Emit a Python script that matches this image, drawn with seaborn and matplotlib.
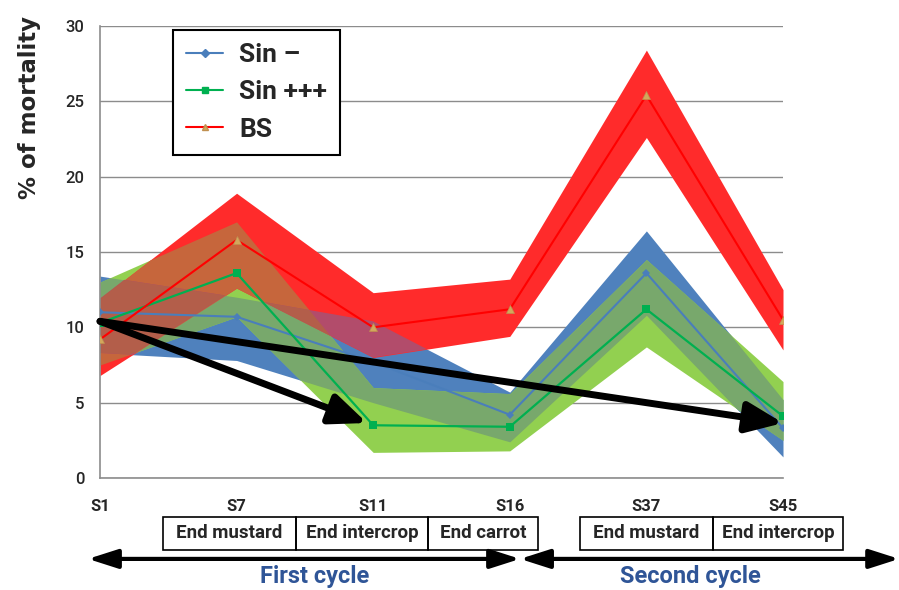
import numpy as np
import matplotlib
matplotlib.use("Agg")
import matplotlib.pyplot as plt
from matplotlib.patches import Rectangle
from matplotlib.lines import Line2D
import seaborn as sns

# ---- data -------------------------------------------------------------
stages = ["S1", "S7", "S11", "S16", "S37", "S45"]

sin_minus = [11.0, 10.7, 7.7, 4.2, 13.6, 3.3]
sin_minus_low = [8.3, 7.8, 5.0, 2.4, 10.8, 1.4]
sin_minus_high = [13.4, 12.0, 10.4, 5.7, 16.4, 5.2]

sin_plus = [10.3, 13.6, 3.5, 3.4, 11.2, 4.1]
sin_plus_low = [7.5, 10.7, 1.7, 1.8, 8.7, 2.5]
sin_plus_high = [13.0, 17.0, 6.0, 5.6, 14.5, 6.4]

bs = [9.2, 15.8, 10.0, 11.2, 25.4, 10.5]
bs_low = [6.8, 12.6, 8.0, 9.4, 22.6, 8.5]
bs_high = [11.9, 18.9, 12.3, 13.2, 28.4, 12.5]

series_names = ["Sin \u2013", "Sin +++", "BS"]
y_ticks = [0, 5, 10, 15, 20, 25, 30]

phase_labels = ["End mustard", "End intercrop", "End carrot",
                "End mustard", "End intercrop"]
cycle_labels = ["First cycle", "Second cycle"]

# trend arrows: start (stage index, %) -> end (stage index, %)
trend_start = (0.0, 10.4)
trend_ends = [(1.955, 3.65), (5.0, 3.65)]

# ---- style ------------------------------------------------------------
sns.set_theme(style="white")
plt.rcParams["font.family"] = ["Roboto", "DejaVu Sans"]

band_colors = {"blue": "#4F81BD", "green": "#92D050", "red": "#FF2B2B"}
mix_colors = {
    ("blue", "green"): "#78A86C",
    ("green", "red"): "#C6663C",
    ("blue", "red"): "#B24C6B",
    ("blue", "green", "red"): "#B35E4A",
}
line_colors = {"blue": "#4A7EBB", "green": "#00B050", "red": "#FF0000"}
grey = "#8C8C8C"

fig = plt.figure(figsize=(8.99, 5.90), dpi=100)
ax = fig.add_axes([100 / 899, 1 - 478 / 590, 683 / 899, 452 / 590])

x = np.arange(len(stages))
bands = {
    "blue": (sin_minus_low, sin_minus_high),
    "green": (sin_plus_low, sin_plus_high),
    "red": (bs_low, bs_high),
}

# single bands
for key in ["blue", "green", "red"]:
    lo, hi = bands[key]
    ax.fill_between(x, lo, hi, color=band_colors[key], lw=0, zorder=1)

# overlapping parts of the bands get their own blended tone
xs = np.linspace(0, len(stages) - 1, 1201)
dense = {k: (np.interp(xs, x, v[0]), np.interp(xs, x, v[1])) for k, v in bands.items()}
for combo, col in mix_colors.items():
    lo = np.max([dense[k][0] for k in combo], axis=0)
    hi = np.min([dense[k][1] for k in combo], axis=0)
    ax.fill_between(xs, lo, hi, where=hi > lo, color=col, lw=0,
                    zorder=2 + len(combo) * 0.1)

# mean lines
sns.lineplot(x=x, y=sin_minus, ax=ax, color=line_colors["blue"], lw=1.5,
             marker="D", markersize=4, markeredgewidth=0, zorder=5)
sns.lineplot(x=x, y=sin_plus, ax=ax, color=line_colors["green"], lw=1.6,
             marker="s", markersize=6, markeredgewidth=0, zorder=5)
sns.lineplot(x=x, y=bs, ax=ax, color=line_colors["red"], lw=1.5,
             marker="^", markersize=6, markerfacecolor="#D2A85C",
             markeredgecolor="#C09050", markeredgewidth=0.5, zorder=5)

# trend arrows
for end in trend_ends:
    ax.annotate("", xy=end, xytext=trend_start,
                arrowprops=dict(arrowstyle="-|>,head_length=1.0,head_width=0.42",
                                lw=5, color="black", mutation_scale=22,
                                shrinkA=0, shrinkB=0),
                zorder=6)

# axes
ax.set_xlim(0, len(stages) - 1)
ax.set_ylim(0, 30)
ax.set_yticks(y_ticks)
ax.set_xticks(x)
ax.set_xticklabels(stages)
ax.yaxis.grid(True, color=grey, lw=1)
ax.set_axisbelow(True)
for s in ["top", "right"]:
    ax.spines[s].set_visible(False)
for s in ["left", "bottom"]:
    ax.spines[s].set_color(grey)
    ax.spines[s].set_linewidth(1.2)
ax.tick_params(axis="y", direction="out", length=6, width=1, color=grey,
               pad=5, labelsize=12)
ax.tick_params(axis="x", direction="out", length=6, width=1, color=grey,
               pad=9, labelsize=12)
for lab in ax.get_xticklabels():
    lab.set_fontweight("bold")
for lab in ax.get_yticklabels():
    lab.set_fontweight("medium")

ax.set_xlabel("")
ax.set_ylabel("% of mortality", fontsize=16.5, fontweight="bold",
              family=["DejaVu Sans"])
ax.yaxis.set_label_coords(-0.086, 0.82)

# legend
handles = [
    Line2D([], [], color=line_colors["blue"], marker="D", markersize=4, lw=1.5),
    Line2D([], [], color=line_colors["green"], marker="s", markersize=5, lw=1.5),
    Line2D([], [], color=line_colors["red"], marker="^", markersize=5, lw=1.5,
           markerfacecolor="#D2A85C", markeredgecolor="#C09050"),
]
leg = ax.legend(handles, series_names, loc="upper left",
                bbox_to_anchor=(0.107, 0.991), borderaxespad=0, frameon=True,
                fancybox=False, framealpha=1, edgecolor="black",
                handlelength=1.4, handletextpad=0.6, borderpad=0.5,
                labelspacing=0.5,
                prop=dict(family="Roboto", weight="bold", size=19))
leg.get_frame().set_linewidth(1.5)
leg.set_zorder(10)

# phase boxes under the axis
trans = ax.get_xaxis_transform()
box_edges = [(0.461, 1.435), (1.435, 2.401), (2.401, 3.207),
             (3.514, 4.488), (4.488, 5.440)]
box_y0, box_y1 = -0.159, -0.0863
for (a, b), text in zip(box_edges, phase_labels):
    ax.add_patch(Rectangle((a, box_y0), b - a, box_y1 - box_y0, transform=trans,
                           fill=False, edgecolor="black", lw=1.2, clip_on=False))
    ax.text((a + b) / 2, (box_y0 + box_y1) / 2, text, transform=trans,
            ha="center", va="center", fontsize=13.5, fontweight="bold",
            clip_on=False)

# cycle arrows and labels
arrow_y = -0.179
cycle_spans = [(-0.088, 3.075), (3.075, 5.85)]
cycle_label_x = [1.574, 4.32]
for (a, b), lx, text in zip(cycle_spans, cycle_label_x, cycle_labels):
    ax.annotate("", xy=(b, arrow_y), xytext=(a, arrow_y), xycoords=trans,
                textcoords=trans, annotation_clip=False,
                arrowprops=dict(arrowstyle="<|-|>,head_length=1.0,head_width=0.32",
                                lw=3, color="black", mutation_scale=18,
                                shrinkA=0, shrinkB=0))
    ax.text(lx, -0.219, text, transform=trans, ha="center",
            va="center", fontsize=17, fontweight="bold", color="#2F5597",
            clip_on=False)

fig.savefig("out.png", dpi=100)
